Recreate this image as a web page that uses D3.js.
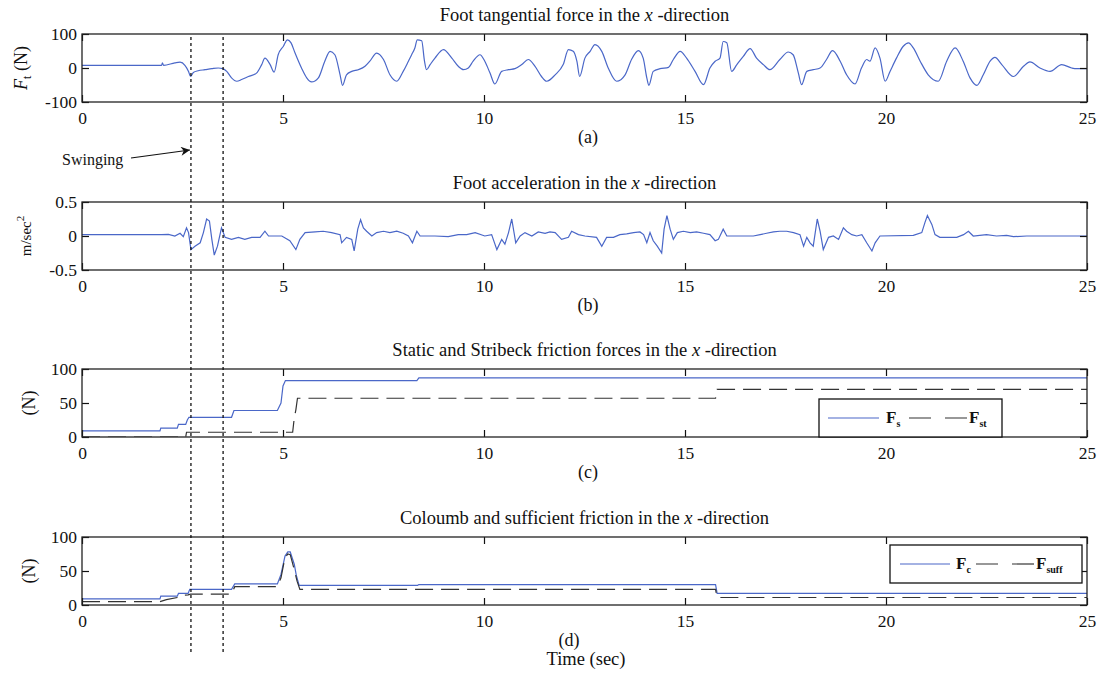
<!DOCTYPE html>
<html>
<head>
<meta charset="utf-8">
<script src="https://cdn.jsdelivr.net/npm/d3@7"></script>
<style>
body { margin: 0; background: #fff; }
text { font-family: "Liberation Serif", "Times New Roman", serif; }
</style>
</head>
<body>
<div id="chart"></div>
<script>
// time axis
var xTicks = [0, 5, 10, 15, 20, 25];
var swingT = [2.71, 3.51];

// (a) foot tangential force
var forceT = [0, 1.98, 2.0, 2.03, 2.31, 2.44, 2.56, 2.65, 2.70, 2.77, 2.89, 3.06, 3.23, 3.39, 3.50, 3.60, 3.72, 3.85, 3.97, 4.14,
	4.34, 4.47, 4.55, 4.68, 4.78, 4.88, 5.01, 5.11, 5.20, 5.30, 5.46, 5.59, 5.71, 5.88, 6.04, 6.17, 6.29, 6.42, 6.48, 6.58,
	6.71, 6.87, 7.04, 7.16, 7.33, 7.50, 7.66, 7.83, 7.99, 8.12, 8.20, 8.28, 8.34, 8.45, 8.52, 8.57, 8.66, 8.78, 8.99, 9.20,
	9.36, 9.49, 9.61, 9.73, 9.90, 10.02, 10.15, 10.27, 10.44, 10.61, 10.77, 10.94, 11.10, 11.27, 11.43, 11.56, 11.77, 11.97, 12.10, 12.22,
	12.31, 12.38, 12.51, 12.64, 12.76, 12.93, 13.09, 13.30, 13.51, 13.67, 13.84, 13.96, 14.05, 14.10, 14.21, 14.38, 14.59, 14.71, 14.88, 15.04,
	15.25, 15.46, 15.62, 15.75, 15.87, 15.95, 16.04, 16.16, 16.29, 16.45, 16.62, 16.78, 16.95, 17.11, 17.36, 17.57, 17.69, 17.82, 17.90, 18.03,
	18.19, 18.36, 18.52, 18.67, 18.86, 19.02, 19.23, 19.39, 19.52, 19.60, 19.73, 19.85, 19.98, 20.10, 20.26, 20.43, 20.56, 20.68, 20.85, 21.05,
	21.30, 21.51, 21.72, 21.92, 22.09, 22.26, 22.42, 22.59, 22.71, 22.88, 23.17, 23.42, 23.58, 23.83, 24.08, 24.37, 24.62, 24.74, 25];
var forceV = [8, 8, 15, 8, 15, 17, 8, -10, -25, -13, -8, -5, -2, 0, -2, -10, -29, -39, -34, -25,
	-15, 10, 29, 10, -12, 39, 64, 83, 74, 44, 0, -29, -41, -29, 20, 49, 39, -20, -51, -20,
	-10, -5, 5, 20, 44, 25, -20, -39, -10, 20, 39, 59, 83, 80, 20, -5, 10, 29, 54, 29,
	5, -5, 0, 20, 39, 20, -15, -47, -10, -5, -2, 10, 25, 5, -25, -39, -20, 10, 54, 49,
	20, -25, 29, 49, 69, 49, 0, -39, -20, 25, 51, 29, -29, -51, -10, -2, 2, 25, 49, 29,
	-10, -49, 0, 20, 29, 78, 74, -10, 10, 34, 57, 29, 10, -5, 25, 47, 39, -15, -49, -10,
	-5, 0, 25, 51, 20, -20, -47, 0, 25, 20, 59, 29, -39, -10, 29, 64, 74, 59, 20, -20,
	-39, 20, 59, 20, -29, -51, -20, 20, 31, 10, -25, 5, 18, 0, -10, 10, 0, -2, -2];

// (b) foot acceleration
var accT = [0, 1.98, 2.15, 2.31, 2.44, 2.52, 2.60, 2.65, 2.71, 2.81, 2.94, 3.02, 3.10, 3.17, 3.23, 3.29, 3.37, 3.47, 3.56, 3.72,
	3.89, 4.05, 4.22, 4.43, 4.55, 4.64, 4.97, 5.17, 5.32, 5.42, 5.55, 5.80, 6.00, 6.21, 6.42, 6.46, 6.58, 6.71, 6.77, 6.86,
	6.93, 7.00, 7.08, 7.21, 7.33, 7.50, 7.66, 7.83, 7.99, 8.12, 8.22, 8.33, 8.41, 8.78, 9.11, 9.36, 9.57, 9.78, 10.02, 10.19,
	10.32, 10.44, 10.52, 10.61, 10.69, 10.79, 10.90, 11.02, 11.19, 11.35, 11.52, 11.64, 11.77, 11.93, 12.10, 12.18, 12.35, 12.51, 12.80, 12.93,
	13.05, 13.22, 13.38, 13.55, 13.72, 13.88, 13.97, 14.05, 14.13, 14.21, 14.31, 14.42, 14.48, 14.55, 14.63, 14.71, 14.81, 14.96, 15.13, 15.29,
	15.46, 15.62, 15.75, 15.83, 15.95, 16.04, 16.70, 16.87, 17.03, 17.20, 17.36, 17.53, 17.70, 17.86, 17.95, 18.03, 18.11, 18.19, 18.29, 18.36,
	18.44, 18.57, 18.69, 18.82, 18.94, 19.02, 19.15, 19.27, 19.40, 19.52, 19.65, 19.73, 19.85, 20.68, 20.89, 20.97, 21.03, 21.14, 21.22, 21.34,
	21.76, 21.93, 22.05, 22.17, 22.50, 22.75, 23.00, 23.17, 23.50, 25];
var accV = [0.02, 0.02, 0.025, 0, 0.04, -0.01, 0.12, 0.05, -0.2, -0.15, -0.1, 0.05, 0.25, 0.22, -0.05, -0.28, -0.15, 0.12, -0.02, -0.05,
	-0.02, -0.05, -0.02, -0.02, 0.07, 0, 0, -0.07, -0.2, -0.05, 0.05, 0.06, 0.07, 0.05, 0.02, -0.1, -0.02, -0.05, -0.22, 0.1,
	0.24, 0.12, 0.07, 0, 0.05, 0.07, 0.05, 0.07, 0.04, 0, -0.1, 0.07, 0, 0, -0.01, 0.02, 0.02, 0.05, 0, 0.02,
	-0.2, -0.05, -0.12, 0.05, 0.25, -0.1, 0, 0.05, 0, 0.06, 0.04, 0.06, 0.05, -0.05, -0.02, 0.07, 0.02, 0, -0.02, -0.15,
	-0.02, -0.02, 0.02, 0.03, 0.05, 0.06, 0.02, -0.1, 0.05, -0.07, -0.15, -0.25, 0.1, 0.3, 0.1, -0.05, 0.05, 0.07, 0.05, 0.06,
	0.04, 0.02, -0.07, -0.05, 0.1, 0, 0, 0.02, 0.04, 0.06, 0.07, 0.07, 0.05, 0.02, -0.15, -0.02, -0.1, -0.15, 0.25, 0.07,
	-0.2, -0.02, 0, -0.05, 0.12, 0.07, 0.02, 0, 0.02, -0.1, -0.22, -0.1, 0, 0.01, 0.05, 0.2, 0.3, 0.17, 0.02, -0.02,
	-0.02, 0.02, 0.07, 0, 0.02, 0, 0.01, -0.01, 0, 0];

// (c) static and Stribeck friction
var fsT = [0, 1.94, 1.96, 2.37, 2.40, 2.58, 2.62, 2.66, 3.72, 3.78, 4.86, 4.95, 5.00, 5.06, 8.33, 8.38, 25];
var fsV = [9, 9, 13, 13, 18.5, 18.5, 25, 29, 29, 39, 39, 50, 75, 83, 83, 87, 87];
var fstT = [0, 2.58, 2.60, 5.24, 5.28, 5.32, 5.36, 15.76, 15.80, 25];
var fstV = [0, 0, 7, 7, 28, 40, 57, 57, 70, 70];

// (d) Coulomb and sufficient friction
var fcT = [0, 1.94, 1.96, 2.37, 2.40, 2.64, 2.68, 3.72, 3.80, 4.86, 4.95, 5.05, 5.12, 5.18, 5.28, 5.33, 5.40, 8.35, 8.38, 15.76, 15.80, 25];
var fcV = [9, 9, 13, 13, 17, 17, 23, 23, 31, 31, 45, 72, 78, 78, 60, 44, 29, 29, 30, 30, 17, 17];
var fsuffT = [0, 1.94, 2.10, 2.37, 2.45, 2.64, 2.70, 3.72, 3.80, 4.86, 4.95, 5.05, 5.12, 5.18, 5.28, 5.35, 5.42, 15.76, 15.80, 25];
var fsuffV = [5, 5, 8, 11, 14, 15, 16, 16, 27, 27, 40, 70, 75, 74, 52, 35, 23, 23, 11, 11];

var yTicksA = [-100, 0, 100];
var yTicksB = [-0.5, 0, 0.5];
var yTicksN = [0, 50, 100];

var blue = "#4a67c8";
var left = 82, right = 1087, ph = 68;
var tops = [34, 202, 369, 537];

var panels = [
	{ title: ["Foot tangential force in the ", "x", " -direction"], domain: [-100, 100], ticks: yTicksA, sub: "(a)", subX: 588,
		series: [{ t: forceT, v: forceV, color: blue, dash: null, curve: d3.curveMonotoneX }] },
	{ title: ["Foot acceleration in the ", "x", " -direction"], domain: [-0.5, 0.5], ticks: yTicksB, sub: "(b)", subX: 588,
		series: [{ t: accT, v: accV, color: blue, dash: null, curve: d3.curveLinear }] },
	{ title: ["Static and Stribeck friction forces in the ", "x", " -direction"], domain: [0, 100], ticks: yTicksN, sub: "(c)", subX: 588,
		series: [{ t: fsT, v: fsV, color: blue, dash: null, curve: d3.curveLinear },
			{ t: fstT, v: fstV, color: "#333", dash: "18,8", curve: d3.curveLinear }] },
	{ title: ["Coloumb and sufficient friction in the ", "x", " -direction"], domain: [0, 100], ticks: yTicksN, sub: "(d)", subX: 569,
		series: [{ t: fcT, v: fcV, color: blue, dash: null, curve: d3.curveLinear },
			{ t: fsuffT, v: fsuffV, color: "#333", dash: "18,8", curve: d3.curveLinear }] }
];

// plain hyphen minus, no trailing zeros, like the original figure
var fmt = function(d) { return String(d); };

var svg = d3.select("#chart").append("svg")
	.attr("width", 1102)
	.attr("height", 677);

var x = d3.scaleLinear().domain([0, 25]).range([left, right]);

panels.forEach(function(p, i) {
	var top = tops[i];
	var y = d3.scaleLinear().domain(p.domain).range([top + ph, top]);
	var g = svg.append("g");

	g.append("clipPath").attr("id", "clip" + i)
		.append("rect")
		.attr("x", left).attr("y", top)
		.attr("width", right - left).attr("height", ph);

	//data lines
	p.series.forEach(function(s) {
		var pts = s.t.map(function(t, j) { return [t, s.v[j]]; });
		g.append("path")
			.datum(pts)
			.attr("clip-path", "url(#clip" + i + ")")
			.attr("fill", "none")
			.attr("stroke", s.color)
			.attr("stroke-width", 1.2)
			.attr("stroke-dasharray", s.dash)
			.attr("d", d3.line()
				.x(function(d) { return x(d[0]); })
				.y(function(d) { return y(d[1]); })
				.curve(s.curve));
	});

	//inward ticks on all four sides
	g.append("g")
		.attr("transform", "translate(0," + (top + ph) + ")")
		.call(d3.axisBottom(x).tickValues(xTicks).tickFormat(fmt).tickSize(-7).tickPadding(10));
	g.append("g")
		.attr("transform", "translate(0," + top + ")")
		.call(d3.axisTop(x).tickValues(xTicks).tickSize(-7).tickFormat(""));
	g.append("g")
		.attr("transform", "translate(" + left + ",0)")
		.call(d3.axisLeft(y).tickValues(p.ticks).tickFormat(fmt).tickSize(-7).tickPadding(5));
	g.append("g")
		.attr("transform", "translate(" + right + ",0)")
		.call(d3.axisRight(y).tickValues(p.ticks).tickSize(-7).tickFormat(""));

	g.selectAll(".domain").remove();
	g.selectAll(".tick line").attr("stroke", "#111").attr("stroke-width", 1.2);
	g.selectAll(".tick text")
		.attr("fill", "#111")
		.attr("font-family", "Liberation Serif, serif")
		.attr("font-size", 17.5);

	//frame
	g.append("rect")
		.attr("x", left).attr("y", top)
		.attr("width", right - left).attr("height", ph)
		.attr("fill", "none")
		.attr("stroke", "#222")
		.attr("stroke-width", 1.3);

	//title
	var title = g.append("text")
		.attr("x", (left + right) / 2)
		.attr("y", top - 13)
		.attr("text-anchor", "middle")
		.attr("font-size", 18.5)
		.attr("fill", "#111");
	title.append("tspan").text(p.title[0]);
	title.append("tspan").attr("font-style", "italic").text(p.title[1]);
	title.append("tspan").text(p.title[2]);

	//sub label
	g.append("text")
		.attr("x", p.subX)
		.attr("y", top + ph + 41)
		.attr("text-anchor", "middle")
		.attr("font-size", 18)
		.attr("fill", "#111")
		.text(p.sub);

	p.y = y;
	p.g = g;
});

//y axis labels
var yl0 = svg.append("text")
	.attr("transform", "translate(27," + (tops[0] + ph / 2) + ") rotate(-90)")
	.attr("text-anchor", "middle")
	.attr("font-size", 18)
	.attr("fill", "#111");
yl0.append("tspan").attr("font-style", "italic").text("F");
yl0.append("tspan").attr("font-size", 12).attr("dy", 4).text("t");
yl0.append("tspan").attr("dy", -4).text(" (N)");

var yl1 = svg.append("text")
	.attr("transform", "translate(31," + (tops[1] + ph / 2) + ") rotate(-90)")
	.attr("text-anchor", "middle")
	.attr("font-family", "Liberation Sans, Arial, sans-serif")
	.attr("font-size", 15)
	.attr("fill", "#111");
yl1.append("tspan").text("m/sec");
yl1.append("tspan").attr("font-size", 11).attr("dy", -7).text("2");

[2, 3].forEach(function(i) {
	svg.append("text")
		.attr("transform", "translate(35," + (tops[i] + ph / 2) + ") rotate(-90)")
		.attr("text-anchor", "middle")
		.attr("font-size", 18)
		.attr("fill", "#111")
		.text("(N)");
});

//legends
function legend(g, bx, by, bw, bh, items) {
	g.append("rect")
		.attr("x", bx).attr("y", by)
		.attr("width", bw).attr("height", bh)
		.attr("fill", "#fff")
		.attr("stroke", "#111")
		.attr("stroke-width", 1.3);
	items.forEach(function(it) {
		g.append("line")
			.attr("x1", bx + it.l0).attr("x2", bx + it.l1)
			.attr("y1", by + bh / 2).attr("y2", by + bh / 2)
			.attr("stroke", it.color)
			.attr("stroke-width", 1.2)
			.attr("stroke-dasharray", it.dash);
		var t = g.append("text")
			.attr("x", bx + it.tx)
			.attr("y", by + bh / 2 + 5)
			.attr("font-size", 17)
			.attr("font-weight", "bold")
			.attr("fill", "#111");
		t.append("tspan").text("F");
		t.append("tspan").attr("font-size", 10).attr("dy", 4).text(it.sub);
	});
}

legend(panels[2].g, 819, 399, 183, 38, [
	{ l0: 9, l1: 60, tx: 67, sub: "s", color: blue, dash: null },
	{ l0: 90, l1: 148, tx: 150, sub: "st", color: "#333", dash: "22,14" }
]);
legend(panels[3].g, 890, 545, 192, 38, [
	{ l0: 10, l1: 60, tx: 66, sub: "c", color: blue, dash: null },
	{ l0: 86, l1: 144, tx: 146, sub: "suff", color: "#333", dash: "22,14" }
]);

//swinging phase markers
swingT.forEach(function(t) {
	svg.append("line")
		.attr("x1", x(t)).attr("x2", x(t))
		.attr("y1", tops[0] + 3).attr("y2", 653)
		.attr("stroke", "#111")
		.attr("stroke-width", 1.3)
		.attr("stroke-dasharray", "3,3");
});

svg.append("defs").append("marker")
	.attr("id", "arrow")
	.attr("viewBox", "0 0 10 10")
	.attr("refX", 10).attr("refY", 5)
	.attr("markerWidth", 12).attr("markerHeight", 9)
	.attr("markerUnits", "userSpaceOnUse")
	.attr("orient", "auto")
	.append("path")
	.attr("d", "M0,0 L10,5 L0,10 L3,5 Z")
	.attr("fill", "#111");

svg.append("text")
	.attr("x", 62).attr("y", 165)
	.attr("font-family", "Liberation Sans, Arial, sans-serif")
	.attr("font-size", 16)
	.attr("fill", "#111")
	.text("Swinging");
svg.append("line")
	.attr("x1", 131).attr("y1", 158)
	.attr("x2", x(swingT[0]) - 1).attr("y2", 150)
	.attr("stroke", "#111")
	.attr("stroke-width", 1.2)
	.attr("marker-end", "url(#arrow)");

svg.append("text")
	.attr("x", 586).attr("y", 665)
	.attr("text-anchor", "middle")
	.attr("font-size", 18.5)
	.attr("fill", "#111")
	.text("Time (sec)");
</script>
</body>
</html>
